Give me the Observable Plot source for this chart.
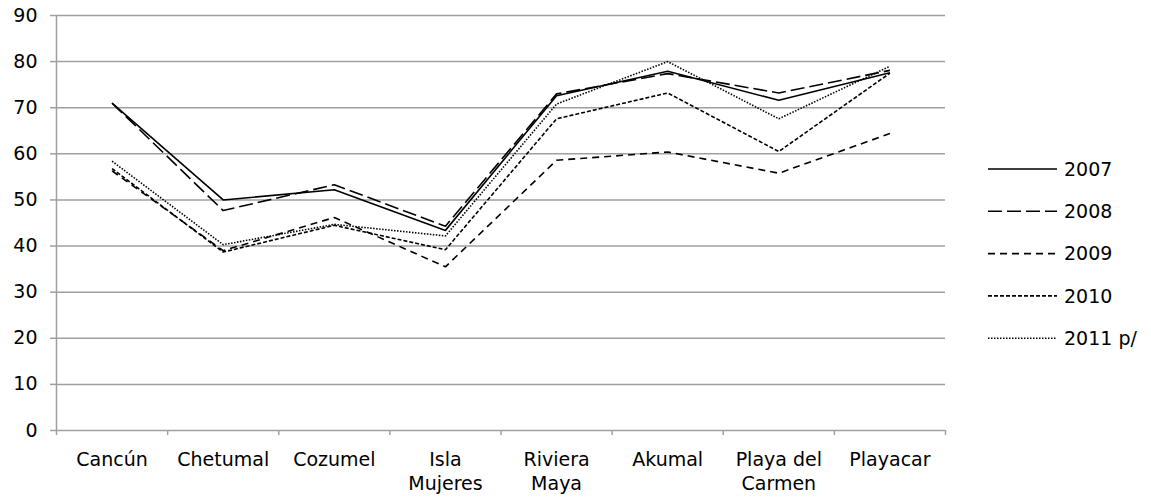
<!DOCTYPE html>
<html>
<head>
<meta charset="utf-8">
<script src="https://cdn.jsdelivr.net/npm/d3@7"></script>
<script src="https://cdn.jsdelivr.net/npm/@observablehq/plot@0.6"></script>
<style>
  body { margin: 0; background: #fff; }
  #wrap { position: relative; width: 1151px; height: 497px; }
  #legend { position: absolute; left: 0; top: 0; pointer-events: none; }
</style>
</head>
<body>
<div id="wrap"></div>
<script>
const categories = ["Cancún", "Chetumal", "Cozumel", "Isla\nMujeres", "Riviera\nMaya", "Akumal", "Playa del\nCarmen", "Playacar"];
const years = ["2007", "2008", "2009", "2010", "2011 p/"];
const v2007 = [71.0, 50.0, 52.2, 43.4, 72.6, 77.9, 71.6, 77.6];
const v2008 = [71.0, 47.7, 53.3, 44.3, 73.0, 77.4, 73.2, 78.1];
const v2009 = [56.3, 39.0, 46.2, 35.5, 58.6, 60.4, 55.8, 64.4];
const v2010 = [56.8, 38.7, 44.5, 39.2, 67.6, 73.2, 60.5, 77.5];
const v2011 = [58.4, 40.3, 44.7, 42.2, 70.8, 80.0, 67.6, 79.0];
const yTicks = [0, 10, 20, 30, 40, 50, 60, 70, 80, 90];

const series = [v2007, v2008, v2009, v2010, v2011];
const dashes = [null, "14,5", "7,5", "4,2", "1.5,1.5"];
const FONT = "'DejaVu Sans', sans-serif";
const GRAY = "#a0a0a0";

const idx = d3.range(categories.length);
const bounds = d3.range(categories.length + 1).map(i => i - 0.5);

const chart = Plot.plot({
  width: 1151,
  height: 497,
  marginLeft: 56,
  marginRight: 206,
  marginTop: 15,
  marginBottom: 67,
  style: { fontFamily: FONT, fontSize: "19px", color: "#000", background: "#fff" },
  x: { type: "linear", domain: [-0.5, categories.length - 0.5], axis: null },
  y: { domain: [0, 90], axis: null },
  marks: [
    Plot.gridY(yTicks.filter(d => d > 0), { stroke: GRAY, strokeOpacity: 1, strokeWidth: 1.5 }),
    Plot.ruleY([0], { stroke: GRAY, strokeWidth: 1.5 }),
    Plot.ruleX([bounds[0]], { stroke: GRAY, strokeWidth: 1.5 }),
    Plot.axisY(yTicks, { anchor: "left", tickSize: 6, tickPadding: 13, stroke: GRAY, strokeWidth: 1.5, fill: "#000" }),
    Plot.axisX(bounds, { anchor: "bottom", tickSize: 5, stroke: GRAY, strokeWidth: 1.5, tickFormat: () => "" }),
    Plot.axisX(idx, { anchor: "bottom", tickSize: 0, tickPadding: 19, lineHeight: 1.25, tickFormat: i => categories[i], fill: "#000" }),
    ...series.map((s, k) => Plot.line(s, {
      x: (d, i) => i,
      y: d => d,
      stroke: "#000",
      strokeWidth: 1.6,
      strokeLinecap: "butt",
      strokeLinejoin: "miter",
      strokeDasharray: dashes[k]
    }))
  ]
});

const wrap = document.getElementById("wrap");
wrap.appendChild(chart);

// Legend
const legend = d3.select(wrap).append("svg")
  .attr("id", "legend")
  .attr("width", 1151).attr("height", 497);
const lg = legend.selectAll("g").data(years).join("g")
  .attr("transform", (d, i) => `translate(988, ${169 + i * 42.3})`);
lg.append("line")
  .attr("x1", 0).attr("x2", 69).attr("y1", 0).attr("y2", 0)
  .attr("stroke", "#000").attr("stroke-width", 1.6)
  .attr("stroke-dasharray", (d, i) => dashes[i]);
lg.append("text")
  .attr("x", 76).attr("y", 0).attr("dy", "0.35em")
  .attr("font-family", FONT).attr("font-size", 19)
  .text(d => d);
</script>
</body>
</html>
